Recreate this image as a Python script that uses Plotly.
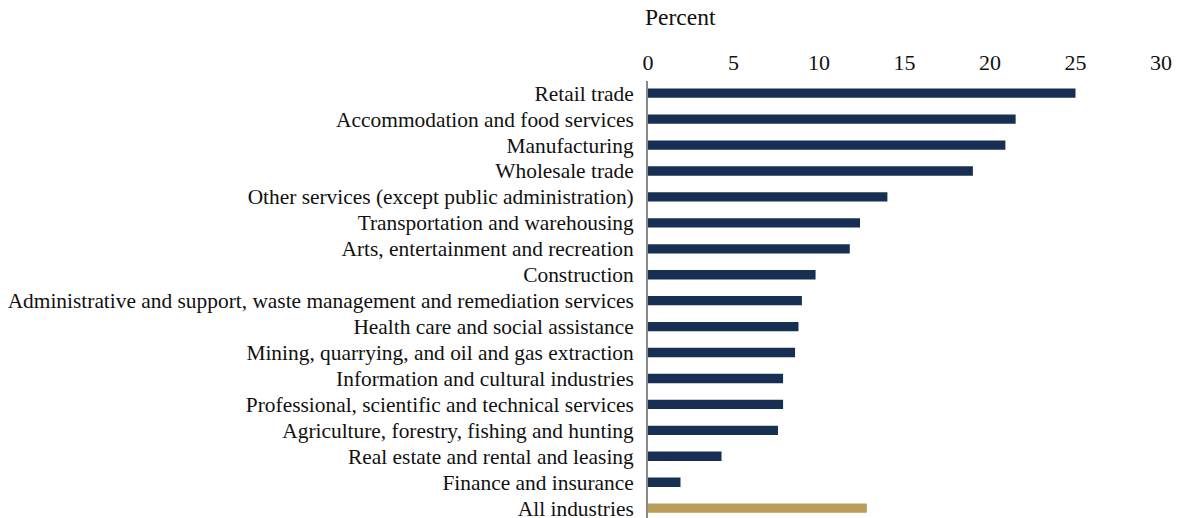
import plotly.graph_objects as go

categories = [
    "Retail trade",
    "Accommodation and food services",
    "Manufacturing",
    "Wholesale trade",
    "Other services (except public administration)",
    "Transportation and warehousing",
    "Arts, entertainment and recreation",
    "Construction",
    "Administrative and support, waste management and remediation services",
    "Health care and social assistance",
    "Mining, quarrying, and oil and gas extraction",
    "Information and cultural industries",
    "Professional, scientific and technical services",
    "Agriculture, forestry, fishing and hunting",
    "Real estate and rental and leasing",
    "Finance and insurance",
    "All industries",
]
values = [25.0, 21.5, 20.9, 19.0, 14.0, 12.4, 11.8, 9.8, 9.0, 8.8, 8.6, 7.9, 7.9, 7.6, 4.3, 1.9, 12.8]
tick_vals = [0, 5, 10, 15, 20, 25, 30]

navy = "#182f54"
gold = "#b99d58"
colors = [gold if c == "All industries" else navy for c in categories]

font_family = "Liberation Serif, DejaVu Serif, serif"

fig = go.Figure(go.Bar(
    x=values, y=categories, orientation="h",
    marker=dict(color=colors, line=dict(width=0)),
    width=0.36,
    hoverinfo="skip",
))

fig.update_layout(
    width=1180, height=518,
    margin=dict(l=648, r=19, t=81, b=0, autoexpand=False),
    paper_bgcolor="white", plot_bgcolor="white",
    font=dict(family=font_family, size=21, color="#111111"),
    showlegend=False,
    xaxis=dict(
        side="top", range=[0, 30], tickvals=tick_vals,
        showgrid=False, zeroline=False, showline=False, ticks="",
        tickfont=dict(size=22), ticklabelstandoff=6, fixedrange=True,
    ),
    yaxis=dict(
        type="category", range=[16.38, -0.47],
        tickmode="array", tickvals=categories, ticktext=categories,
        showgrid=False, zeroline=False,
        showline=True, linecolor="#8a8a8a", linewidth=2,
        ticks="", ticklabelstandoff=8, tickfont=dict(size=21.4),
        fixedrange=True,
    ),
    annotations=[dict(
        text="Percent", xref="paper", yref="paper", x=0, y=1,
        xanchor="left", yanchor="bottom", xshift=-5, yshift=49,
        showarrow=False, font=dict(size=23.5, family=font_family, color="#111111"),
    )],
)

fig.write_html(
    "out.html",
    config={"displayModeBar": False},
    post_script="document.body.style.margin='0';document.body.style.overflow='hidden';",
)
